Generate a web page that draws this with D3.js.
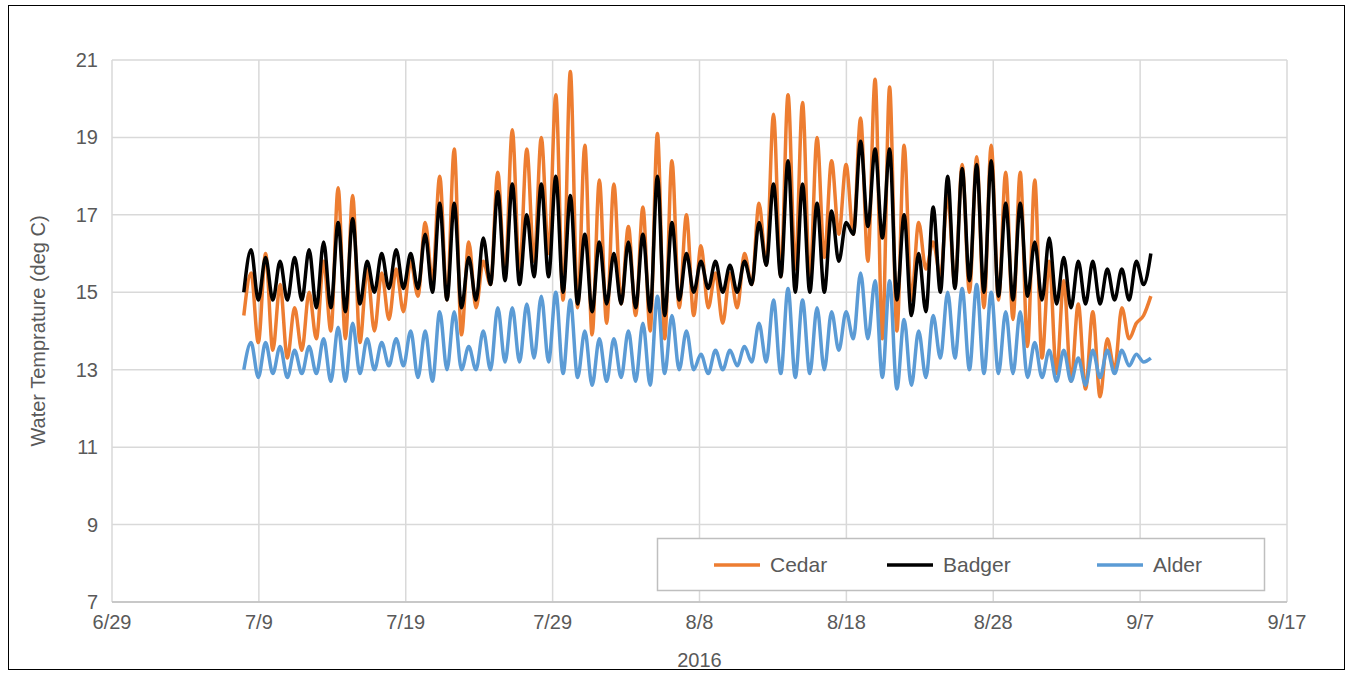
<!DOCTYPE html><html><head><meta charset="utf-8">
<script src="https://cdn.jsdelivr.net/npm/d3@7"></script>
<style>body{margin:0;background:#fff}text{font-family:Arial,"Liberation Sans",sans-serif;fill:#595959}</style></head><body>
<svg id="c" width="1354" height="676"></svg>
<script>
const xTicks=["6/29","7/9","7/19","7/29","8/8","8/18","8/28","9/7","9/17"];
const yTicks=[7,9,11,13,15,17,19,21];
const seriesNames=["Cedar","Badger","Alder"];
const seriesColors=["#ed7d31","#000000","#5b9bd5"];
const cedarMax=[15.5,16.0,15.2,14.6,15.0,15.8,17.7,17.5,15.6,15.5,15.6,15.8,16.8,18.0,18.7,16.3,15.8,18.1,19.2,18.7,19.0,20.1,20.7,18.8,17.9,17.8,16.7,17.2,19.1,18.4,17.0,16.2,15.5,15.5,16.0,17.3,19.6,20.1,19.9,19.0,18.4,18.3,19.5,20.5,20.3,18.8,16.8,16.3,17.5,18.3,18.5,18.8,18.1,18.1,17.9,15.8,15.3,14.7,14.5,13.8,14.6,14.2,14.9];
const cedarMin=[14.4,13.7,13.5,13.3,13.5,13.8,14.0,13.8,13.7,14.0,14.3,14.5,14.9,15.3,14.8,13.9,14.6,15.2,15.4,15.5,15.8,16.0,14.8,14.6,13.9,14.2,14.7,14.4,14.0,13.8,14.6,14.4,14.6,14.2,14.6,15.2,15.7,15.4,15.6,15.3,15.9,16.5,16.5,15.8,13.8,14.0,14.8,15.6,15.4,15.2,15.0,14.6,14.8,14.3,13.6,13.3,12.9,12.7,12.5,12.3,13.0,13.8,14.4];
const badgerMax=[16.1,15.9,15.8,15.9,16.1,16.3,16.8,16.9,15.8,16.0,16.1,16.0,16.5,17.3,17.3,15.9,16.4,17.6,17.8,17.0,17.8,18.0,17.5,16.5,16.3,16.0,16.3,16.5,18.0,16.8,16.0,15.8,15.8,15.7,15.8,16.8,17.8,18.4,17.8,17.3,17.1,16.8,18.9,18.7,18.7,17.0,16.0,17.2,18.0,18.2,18.3,18.4,17.3,17.3,16.3,16.4,15.9,15.8,15.8,15.6,15.6,15.8,16.0];
const badgerMin=[15.0,14.8,14.8,14.8,14.8,14.6,14.6,14.5,14.7,15.0,15.1,15.1,15.1,15.0,14.8,14.6,14.8,15.2,15.3,15.2,15.4,15.4,15.0,14.7,14.5,14.7,14.7,14.6,14.5,14.4,14.8,15.0,15.1,15.0,15.0,15.2,15.7,15.4,15.0,15.0,15.0,15.8,16.5,16.7,16.4,14.8,14.4,14.5,15.0,15.1,15.3,15.0,14.9,14.8,14.9,14.8,14.7,14.6,14.7,14.7,14.8,14.8,15.2];
const alderMax=[13.7,13.7,13.6,13.5,13.6,13.8,14.1,14.2,13.8,13.7,13.8,14.0,14.0,14.5,14.5,13.6,14.0,14.6,14.6,14.7,14.9,15.0,14.8,14.0,13.8,13.8,14.0,14.2,14.9,14.4,14.0,13.4,13.5,13.5,13.6,14.2,14.8,15.1,14.8,14.6,14.5,14.5,15.5,15.3,15.3,14.3,14.0,14.4,15.0,15.1,15.2,15.0,14.5,14.5,13.7,13.5,13.5,13.3,13.5,13.5,13.5,13.4,13.3];
const alderMin=[13.0,12.8,12.9,12.8,12.9,12.9,12.7,12.7,12.9,13.0,13.1,13.1,12.8,12.7,13.0,13.0,13.0,13.0,13.2,13.2,13.3,13.2,12.9,12.8,12.6,12.7,12.8,12.7,12.6,12.9,13.0,13.0,12.9,13.0,13.1,13.2,13.2,12.9,12.8,12.9,13.0,13.5,13.8,13.8,12.8,12.5,12.6,12.8,13.3,13.3,13.0,12.9,12.9,12.9,12.8,12.8,12.7,12.7,12.6,12.8,12.9,13.1,13.2];
const series=[[cedarMin,cedarMax],[badgerMin,badgerMax],[alderMin,alderMax]];

const svg=d3.select("#c");
svg.append("rect").attr("x",8.5).attr("y",5.5).attr("width",1336).attr("height",664).attr("fill","none").attr("stroke","#000");
const L=112,R=1287,T=60,B=602;
const t0=new Date(2016,5,29),t1=new Date(2016,8,17);
const x=d3.scaleTime().domain([t0,t1]).range([L,R]);
const y=d3.scaleLinear().domain([7,21]).range([B,T]);
const tickDates=xTicks.map(s=>{const [m,d]=s.split("/").map(Number);return new Date(2016,m-1,d);});
const g=svg.append("g");
g.selectAll(".vg").data(tickDates).join("line").attr("x1",d=>x(d)).attr("x2",d=>x(d)).attr("y1",T).attr("y2",B).attr("stroke","#d9d9d9").attr("stroke-width",1.5);
g.selectAll(".hg").data(yTicks).join("line").attr("x1",L).attr("x2",R).attr("y1",d=>y(d)).attr("y2",d=>y(d)).attr("stroke","#d9d9d9").attr("stroke-width",1.5);
g.append("line").attr("x1",L).attr("x2",R).attr("y1",B).attr("y2",B).attr("stroke","#bfbfbf").attr("stroke-width",1.5);
g.selectAll(".yl").data(yTicks).join("text").attr("x",L-14).attr("y",d=>y(d)+7).attr("text-anchor","end").attr("font-size",20).text(d=>d);
g.selectAll(".xl").data(tickDates).join("text").attr("x",d=>x(d)).attr("y",B+27).attr("text-anchor","middle").attr("font-size",20).text((d,i)=>xTicks[i]);
svg.append("text").attr("x",x(new Date(2016,7,8))).attr("y",667).attr("text-anchor","middle").attr("font-size",20).text("2016");
svg.append("text").attr("transform","translate(45,331) rotate(-90)").attr("text-anchor","middle").attr("font-size",20).text("Water Temprature (deg C)");

const start=new Date(2016,6,7,21).getTime(), end=new Date(2016,8,8,3).getTime();
const line=d3.line().x(d=>x(d[0])).y(d=>y(d[1])).curve(d3.curveMonotoneX);
series.forEach((s,k)=>{
  const [mn,mx]=s;const n=Math.min(mn.length,mx.length);
  const per=(end-start)/n;const pts=[];
  for(let i=0;i<n;i++){pts.push([new Date(start+i*per+per*0.1),mn[i]]);pts.push([new Date(start+i*per+per*0.6),mx[i]]);}
  svg.append("path").datum(pts).attr("d",line).attr("fill","none").attr("stroke",seriesColors[k]).attr("stroke-width",3.5).attr("stroke-linejoin","round");
});
const lg=svg.append("g");
lg.append("rect").attr("x",657.5).attr("y",538.5).attr("width",607).attr("height",52).attr("fill","#fff").attr("stroke","#bfbfbf").attr("stroke-width",1.5);
const lx=[714,887,1097];
seriesNames.forEach((nm,i)=>{
  lg.append("line").attr("x1",lx[i]).attr("x2",lx[i]+46).attr("y1",565).attr("y2",565).attr("stroke",seriesColors[i]).attr("stroke-width",3.5);
  lg.append("text").attr("x",lx[i]+56).attr("y",572).attr("font-size",21).text(nm);
});
</script></body></html>
